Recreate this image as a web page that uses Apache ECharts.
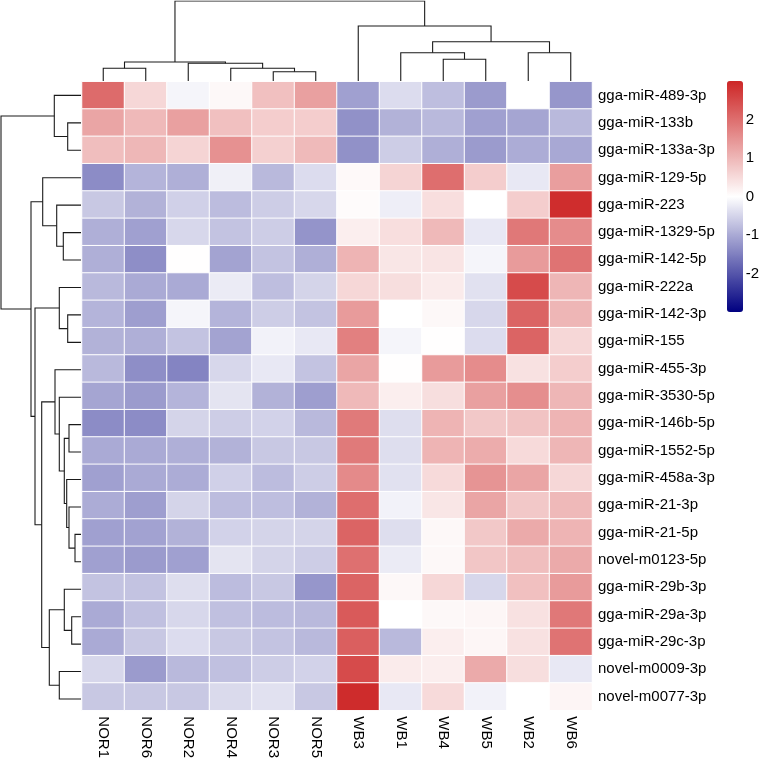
<!DOCTYPE html>
<html>
<head>
<meta charset="utf-8">
<script src="https://cdn.jsdelivr.net/npm/echarts@6/dist/echarts.min.js"></script>
<style>
html,body{margin:0;padding:0;background:#fff;}
#chart{width:762px;height:761px;}
</style>
</head>
<body>
<div id="chart"></div>
<script>
// Column (sample) order as displayed
const colNames = ['NOR1','NOR6','NOR2','NOR4','NOR3','NOR5','WB3','WB1','WB4','WB5','WB2','WB6'];
// Row (miRNA) order as displayed, top to bottom
const rowNames = ['gga-miR-489-3p','gga-miR-133b','gga-miR-133a-3p','gga-miR-129-5p','gga-miR-223',
  'gga-miR-1329-5p','gga-miR-142-5p','gga-miR-222a','gga-miR-142-3p','gga-miR-155','gga-miR-455-3p',
  'gga-miR-3530-5p','gga-miR-146b-5p','gga-miR-1552-5p','gga-miR-458a-3p','gga-miR-21-3p','gga-miR-21-5p',
  'novel-m0123-5p','gga-miR-29b-3p','gga-miR-29a-3p','gga-miR-29c-3p','novel-m0009-3p','novel-m0077-3p'];

// Row-scaled values, one array per sample (rows in rowNames order)
const vNOR1 = [2.05,1.24,0.9,-1.35,-0.65,-0.94,-0.94,-0.82,-0.88,-0.91,-0.82,-1.06,-1.35,-1.0,-1.12,-0.98,-1.12,-1.12,-0.71,-1.0,-1.0,-0.47,-0.65];
const vNOR6 = [0.55,0.97,1.0,-0.88,-0.91,-1.12,-1.33,-1.0,-1.14,-0.94,-1.33,-1.18,-1.35,-1.0,-1.0,-1.14,-1.09,-1.18,-0.71,-0.74,-0.65,-1.18,-0.65];
const vNOR2 = [-0.12,1.31,0.6,-0.94,-0.55,-0.47,0.02,-1.0,-0.12,-0.71,-1.45,-0.88,-0.51,-0.94,-0.98,-0.51,-0.91,-1.12,-0.39,-0.47,-0.41,-0.82,-0.65];
const vNOR4 = [0.1,0.87,1.52,-0.18,-0.79,-0.71,-1.08,-0.24,-0.88,-1.08,-0.47,-0.32,-0.59,-0.91,-0.55,-0.79,-0.53,-0.32,-0.79,-0.74,-0.65,-0.74,-0.44];
const vNOR3 = [0.87,0.69,0.65,-0.82,-0.59,-0.59,-0.71,-0.76,-0.59,-0.15,-0.27,-0.91,-0.53,-0.65,-0.79,-0.76,-0.51,-0.51,-0.65,-0.79,-0.71,-0.59,-0.35];
const vNOR5 = [1.31,0.69,0.95,-0.41,-0.47,-1.26,-0.94,-0.51,-0.71,-0.27,-0.71,-1.14,-0.82,-0.65,-0.59,-0.91,-0.51,-0.59,-1.24,-0.82,-0.82,-0.53,-0.65];
const vWB3  = [-1.12,-1.29,-1.29,0.08,0.05,0.24,1.04,0.55,1.38,1.76,1.24,0.97,1.84,1.84,1.62,2.0,2.14,1.98,2.14,2.28,2.21,2.49,2.92];
const vWB1  = [-0.41,-0.91,-0.59,0.6,-0.2,0.45,0.35,0.46,0.0,-0.12,0.02,0.24,-0.39,-0.39,-0.35,-0.15,-0.39,-0.24,0.1,0.0,-0.82,0.28,-0.27];
const vWB4  = [-0.76,-0.82,-0.94,2.0,0.45,0.97,0.37,0.28,0.1,0.02,1.38,0.46,1.04,1.04,0.51,0.35,0.1,0.1,0.55,0.1,0.24,0.24,0.51];
const vWB5  = [-1.18,-1.12,-1.18,0.69,0.0,-0.27,-0.12,-0.35,-0.47,-0.41,1.59,1.31,0.76,1.15,1.48,1.24,0.76,0.79,-0.47,0.12,0.12,1.18,-0.15];
const vWB2  = [0.0,-1.06,-0.98,-0.27,0.69,1.87,1.38,2.49,2.14,2.14,0.41,1.56,0.83,0.51,1.24,0.76,1.18,0.9,0.87,0.41,0.41,0.46,0.0];
const vWB6  = [-1.24,-0.82,-1.02,1.34,2.9,1.59,1.94,1.01,1.01,0.55,0.69,1.01,1.04,1.01,0.55,0.97,1.04,1.18,1.38,1.87,1.94,-0.27,0.14];

// Colour-bar tick labels
const legendTicks = [-2,-1,0,1,2];

// Column dendrogram merges: [childA, childB, height]; strings = leaves, numbers = earlier merge (1-based)
const colMerges = [
  ['NOR3','NOR5',9.3], ['NOR4',1,12.7], ['NOR1','NOR6',12.7], ['NOR2',2,17.7], [3,4,19],
  ['WB4','WB5',21.7], ['WB1',6,28.3], ['WB2','WB6',28.3], [7,8,39.3], ['WB3',9,55], [5,10,80]
];
// Row dendrogram merges
const rowMerges = [
  ['gga-miR-133b','gga-miR-133a-3p',13.3], ['gga-miR-489-3p',1,26.7],
  ['gga-miR-1329-5p','gga-miR-142-5p',17.7], ['gga-miR-223',3,24.3], ['gga-miR-129-5p',4,38.3],
  ['gga-miR-142-3p','gga-miR-155',13.3], ['gga-miR-222a',6,21.7],
  ['gga-miR-21-5p','novel-m0123-5p',6], ['gga-miR-21-3p',8,12], ['gga-miR-458a-3p',9,14.3],
  ['gga-miR-146b-5p','gga-miR-1552-5p',12], [11,10,16.7], ['gga-miR-3530-5p',12,21.7], ['gga-miR-455-3p',13,26],
  ['gga-miR-29a-3p','gga-miR-29c-3p',9.3], ['gga-miR-29b-3p',15,16.7], ['novel-m0009-3p','novel-m0077-3p',21.7],
  [16,17,31.7], [14,18,39.3], [7,19,46], [5,20,50], [2,21,80]
];

const colValues = [vNOR1,vNOR6,vNOR2,vNOR4,vNOR3,vNOR5,vWB3,vWB1,vWB4,vWB5,vWB2,vWB6];
const heatData = [];
colValues.forEach((arr, c) => arr.forEach((v, r) => heatData.push([c, r, v])));

function dendro(leaves, merges, swap) {
  const pos = [], hgt = [];
  const get = (n) => typeof n === 'string'
    ? { p: leaves.indexOf(n) + 0.5, h: 0 }
    : { p: pos[n - 1], h: hgt[n - 1] };
  const out = [];
  merges.forEach((m) => {
    const a = get(m[0]), b = get(m[1]), h = m[2];
    pos.push((a.p + b.p) / 2); hgt.push(h);
    let pts = [[a.p, a.h], [a.p, h], [b.p, h], [b.p, b.h]];
    if (swap) pts = pts.map(q => [q[1], q[0]]);
    out.push({ coords: pts });
  });
  return out;
}

const FONT = "'Liberation Sans', Arial, Helvetica, sans-serif";
const lineStyle = { color: '#1a1a1a', width: 1.1, opacity: 1 };

const chart = echarts.init(document.getElementById('chart'), null, { renderer: 'canvas' });
chart.setOption({
  backgroundColor: '#ffffff',
  animation: false,
  textStyle: { fontFamily: FONT },
  grid: [
    { left: 82, top: 81.7, width: 510, height: 631 },
    { left: 82, top: 1, width: 510, height: 80 },
    { left: 1, top: 81.7, width: 80, height: 631 },
    { left: 727, top: 81, width: 16, height: 231 }
  ],
  xAxis: [
    { type: 'category', gridIndex: 0, data: colNames, position: 'bottom',
      axisLine: { show: false }, axisTick: { show: false }, splitLine: { show: false },
      axisLabel: { rotate: -90, fontSize: 15, color: '#000', margin: 6, fontFamily: FONT, interval: 0 } },
    { type: 'value', gridIndex: 1, min: 0, max: 12, show: false },
    { type: 'value', gridIndex: 2, min: 0, max: 80, inverse: true, show: false },
    { type: 'value', gridIndex: 3, min: 0, max: 1, show: false }
  ],
  yAxis: [
    { type: 'category', gridIndex: 0, data: rowNames, inverse: true, position: 'right',
      axisLine: { show: false }, axisTick: { show: false }, splitLine: { show: false },
      axisLabel: { fontSize: 15, color: '#000', margin: 6, fontFamily: FONT, interval: 0 } },
    { type: 'value', gridIndex: 1, min: 0, max: 80, show: false },
    { type: 'value', gridIndex: 2, min: 0, max: 23, inverse: true, show: false },
    { type: 'value', gridIndex: 3, min: -3, max: 3, interval: 1, position: 'right',
      axisLine: { show: false }, axisTick: { show: false }, splitLine: { show: false },
      axisLabel: { fontSize: 15, color: '#000', margin: 7, fontFamily: FONT,
        formatter: (v) => legendTicks.indexOf(v) >= 0 ? String(v) : '' } }
  ],
  visualMap: {
    type: 'continuous', min: -3, max: 3, seriesIndex: 0,
    left: 727, top: 81, itemWidth: 16, itemHeight: 231, padding: 0,
    calculable: false, hoverLink: false, text: null,
    inRange: { color: ['#000080', '#ffffff', '#CD2626'] }
  },
  series: [
    { type: 'heatmap', xAxisIndex: 0, yAxisIndex: 0, data: heatData,
      itemStyle: { borderColor: '#ffffff', borderWidth: 1 },
      emphasis: { disabled: true }, silent: true },
    { type: 'lines', coordinateSystem: 'cartesian2d', xAxisIndex: 1, yAxisIndex: 1,
      polyline: true, silent: true, lineStyle: lineStyle, data: dendro(colNames, colMerges, false) },
    { type: 'lines', coordinateSystem: 'cartesian2d', xAxisIndex: 2, yAxisIndex: 2,
      polyline: true, silent: true, lineStyle: lineStyle, data: dendro(rowNames, rowMerges, true) }
  ]
});
</script>
</body>
</html>
